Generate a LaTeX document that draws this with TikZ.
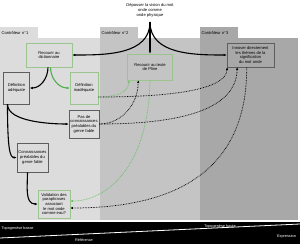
\documentclass[tikz,border=0pt]{standalone}
\usepackage{fontspec}
\setmainfont{Liberation Sans}
\usetikzlibrary{arrows.meta,calc}
\definecolor{zoneone}{HTML}{DCDCDC}
\definecolor{zonetwo}{HTML}{C4C4C4}
\definecolor{zonethree}{HTML}{A8A8A8}
\definecolor{boxedge}{HTML}{5E5E5E}
\definecolor{boxgreen}{HTML}{9CC48E}
\definecolor{arrgreen}{HTML}{4FAE4A}
\definecolor{dotgreen}{HTML}{6CBF66}

\begin{document}
\begin{tikzpicture}[x=1pt, y=-1pt, every node/.style={font=\fontsize{4.1}{4.7}\selectfont, inner sep=0.5pt}, tab/.style={anchor=north west, text width=35pt, minimum height=11pt, inner sep=1.5pt, align=left}, box/.style={draw=boxedge, line width=0.6pt, align=center, inner sep=1pt}, okbox/.style={box, draw=boxgreen}, arr/.style={-{Latex[length=3pt,width=2.6pt]}, line width=1.1pt}, greenarr/.style={arr, draw=arrgreen}, dotarr/.style={-{Latex[length=2.6pt,width=2.4pt]}, line width=0.75pt, dash pattern=on 0.7pt off 0.9pt}, greendot/.style={dotarr, draw=dotgreen}, bandtext/.style={text=white, font=\fontsize{3.8}{4.4}\selectfont}]
\useasboundingbox (0,0) rectangle (300,244);
% controller zones
\fill[zoneone] (0,38) rectangle (100,220);
\fill[zonetwo] (100,38) rectangle (200,220);
\fill[zonethree] (200,38) rectangle (298,220);
\node[tab, fill=zoneone] (ctrlone) at (0,27) {Contrôleur n°1};
\node[tab, fill=zonetwo] (ctrltwo) at (100,27) {Contrôleur n°2};
\node[tab, fill=zonethree] (ctrlthree) at (200,27) {Contrôleur n°3};
% goal and boxes
\node[align=center] (goal) at (150,10.5) {Dépasser la vision du mot\\onde comme\\onde physique};
\coordinate (fork) at (150,22);
\node[okbox, fill=zoneone, minimum width=46pt, minimum height=24pt] (dico) at (49,55) {Recourir au\\dictionnaire};
\node[box, fill=zoneone, minimum width=26pt, minimum height=32pt] (adeq) at (16.5,88) {Définition\\adéquate};
\node[okbox, fill=zoneone, minimum width=28pt, minimum height=32pt] (inadeq) at (84,88) {Définition\\inadéquate};
\node[okbox, fill=zonetwo, minimum width=45pt, minimum height=26pt] (pline) at (150,67) {Recourir au texte\\de Pline};
\node[box, fill=zonethree, minimum width=47pt, minimum height=24pt] (innov) at (250.5,55) {Innover directement\\les thèmes de la\\signification\\du mot onde};
\node[box, fill=zoneone, minimum width=30pt, minimum height=28pt] (noprior) at (84,124) {Pas de\\connaissances\\préalables du\\genre fable};
\node[box, fill=zoneone, minimum width=31pt, minimum height=29pt] (prior) at (32.5,157.5) {Connaissances\\préalables du\\genre fable};
\node[okbox, fill=zoneone, minimum width=32pt, minimum height=28pt] (valid) at (54,204) {Validation des\\paraphrases\\associant\\le mot onde\\comme eau?};
% solid arrows
\draw[arr] (fork) to[out=-90, in=0] (dico.east);
\draw[arr] (fork) to[out=-90, in=180] (innov.west);
\draw[arr] (fork) -- (pline.north);
\draw[arr] ($(dico.south)+(-1,0)$) to[out=-90, in=0] (adeq.east);
\draw[greenarr] ($(dico.south)+(1.5,0)$) to[out=-90, in=180] (inadeq.west);
\draw[arr] ($(adeq.south)+(-9,0)$) to[out=-90, in=180, looseness=0.7] (noprior.west);
\draw[arr] ($(adeq.south)+(-9,0)$) .. controls (7.5,150) and (10,157.5) .. (prior.west);
\draw[arr] ($(prior.south)+(-5,0)$) to[out=-90, in=180] (valid.west);
% dotted arrows
\draw[greendot] ($(inadeq.east)+(0,9)$) to[out=0, in=-90] ($(pline.south west)+(1.5,0)$);
\draw[dotarr] ($(inadeq.east)+(0,9)$) .. controls (170,97) and (226,90) .. ($(innov.south west)+(0.5,0)$);
\draw[dotarr] (noprior.east) to[out=0, in=-90] ($(pline.south west)+(11,0)$);
\draw[dotarr] (noprior.east) .. controls (180,124) and (236,110) .. ($(innov.south west)+(10.5,0)$);
\draw[dotarr] ($(innov.south west)+(20,0)$) .. controls (247,160) and (190,208) .. ($(valid.east)+(0,4)$);
\draw[greendot] (pline.south) .. controls (148,170) and (105,201) .. ($(valid.east)+(0,-3)$);
% bottom band
\fill[black] (0,222) rectangle (300,244);
\draw[white, line width=0.8pt] (0,238) -- (300,224);
\node[bandtext, anchor=west] (lowtopo) at (1,228.5) {Topogenèse basse};
\node[bandtext] (hightopo) at (220,226) {Topogenèse haute};
\node[bandtext] (refer) at (84,240.5) {Référence};
\node[bandtext] (expr) at (286.5,236.8) {Expression};
\end{tikzpicture}
\end{document}
